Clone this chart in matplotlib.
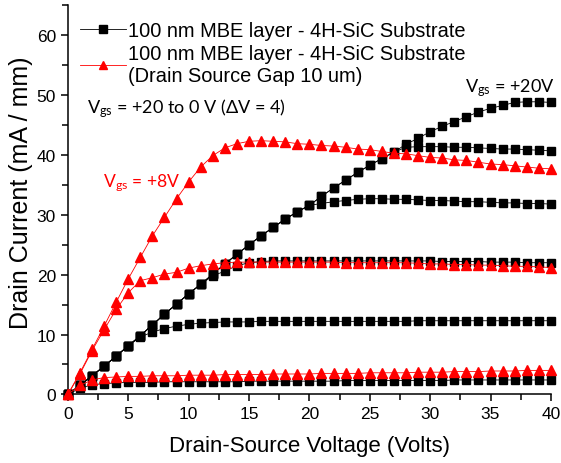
"""I-V output characteristics: 100 nm MBE layer on 4H-SiC substrate."""

import matplotlib

matplotlib.use("Agg")
import matplotlib.pyplot as plt
from matplotlib.ticker import MultipleLocator

plt.rcParams["font.family"] = ["Liberation Sans", "DejaVu Sans"]
plt.rcParams["mathtext.fontset"] = "custom"
plt.rcParams["mathtext.rm"] = "Lato"
plt.rcParams["mathtext.it"] = "Lato"

# drain-source voltage, 1 V steps
vds = list(range(0, 41))

# black squares, Vgs = +20 ... 0 V
black_vgs20 = [0, 1.5, 3.1, 4.7, 6.4, 8.1, 9.8, 11.6, 13.4, 15.1, 16.8, 18.4, 20.1, 21.8,
               23.4, 25.0, 26.5, 27.9, 29.3, 30.5, 31.6, 33.1, 34.5, 35.8, 37.1, 38.3, 39.4,
               40.5, 41.8, 42.8, 43.9, 44.8, 45.6, 46.4, 47.2, 47.8, 48.3, 48.8, 48.9, 48.9, 48.8]
black_vgs16 = [0, 1.5, 3.1, 4.7, 6.4, 8.1, 9.8, 11.6, 13.4, 15.1, 16.8, 18.4, 20.1, 21.8,
               23.4, 25.0, 26.5, 27.9, 29.3, 30.5, 31.6, 33.1, 34.5, 35.8, 37.1, 38.3, 39.4,
               40.5, 41.3, 41.4, 41.4, 41.4, 41.3, 41.3, 41.2, 41.1, 41.0, 41.0, 40.9, 40.8, 40.7]
black_vgs12 = [0, 1.5, 3.1, 4.7, 6.4, 8.1, 9.8, 11.6, 13.4, 15.1, 16.8, 18.4, 20.1, 21.8,
               23.4, 25.0, 26.5, 27.9, 29.3, 30.5, 31.6, 31.9, 32.2, 32.4, 32.6, 32.7, 32.7,
               32.6, 32.6, 32.5, 32.4, 32.4, 32.3, 32.2, 32.2, 32.1, 32.0, 32.0, 31.9, 31.9, 31.8]
black_vgs8 = [0, 1.5, 3.1, 4.7, 6.4, 8.1, 9.8, 11.6, 13.4, 15.1, 16.8, 18.4, 19.8, 20.6,
              21.5, 22.0, 22.2, 22.3, 22.3, 22.3, 22.3, 22.3, 22.3, 22.3, 22.3, 22.3, 22.3,
              22.3, 22.3, 22.3, 22.3, 22.2, 22.2, 22.2, 22.2, 22.1, 22.1, 22.1, 22.0, 22.0, 22.0]
black_vgs4 = [0, 1.5, 3.1, 4.7, 6.4, 8.1, 9.6, 10.4, 11.0, 11.4, 11.7, 11.9, 12.0, 12.1,
              12.1, 12.1, 12.2, 12.2, 12.2, 12.2, 12.2, 12.2, 12.2, 12.2, 12.2, 12.2, 12.2,
              12.2, 12.2, 12.3, 12.3, 12.3, 12.3, 12.3, 12.3, 12.3, 12.3, 12.3, 12.3, 12.3, 12.3]
black_vgs0 = [0, 1.0, 1.6, 1.8, 1.9, 2.0, 2.0, 2.0, 2.1, 2.1, 2.1, 2.1, 2.1, 2.1,
              2.1, 2.2, 2.2, 2.2, 2.2, 2.2, 2.2, 2.2, 2.2, 2.3, 2.3, 2.3, 2.3,
              2.3, 2.3, 2.3, 2.3, 2.3, 2.4, 2.4, 2.4, 2.4, 2.4, 2.4, 2.4, 2.4, 2.4]

# red triangles, drain-source gap 10 um
red_vgs8 = [0, 3.6, 7.5, 11.4, 15.4, 19.3, 22.9, 26.5, 29.6, 32.7, 35.5, 38.0, 39.9, 41.2,
            41.9, 42.3, 42.4, 42.3, 42.2, 41.9, 41.8, 41.6, 41.5, 41.3, 41.0, 40.9, 40.6,
            40.3, 40.2, 39.9, 39.6, 39.5, 39.2, 39.1, 38.8, 38.5, 38.4, 38.2, 38.0, 37.8, 37.7]
red_vgs4 = [0, 3.4, 7.3, 10.8, 14.2, 17.0, 19.0, 19.5, 20.1, 20.4, 21.1, 21.5, 21.8, 22.0,
            22.1, 22.1, 22.1, 22.1, 22.1, 22.1, 22.1, 22.1, 22.1, 22.0, 22.0, 22.0, 22.0,
            22.0, 22.0, 21.9, 21.8, 21.8, 21.7, 21.7, 21.6, 21.6, 21.5, 21.4, 21.4, 21.3, 21.2]
red_vgs0 = [0, 1.5, 2.4, 2.8, 2.9, 3.0, 3.0, 3.1, 3.1, 3.1, 3.2, 3.2, 3.2, 3.3,
            3.3, 3.3, 3.3, 3.4, 3.4, 3.4, 3.4, 3.5, 3.5, 3.5, 3.5, 3.6, 3.6,
            3.6, 3.6, 3.7, 3.7, 3.7, 3.8, 3.8, 3.8, 3.9, 3.9, 3.9, 4.0, 4.0, 4.0]

black_curves = [black_vgs20, black_vgs16, black_vgs12, black_vgs8, black_vgs4, black_vgs0]
red_curves = [red_vgs8, red_vgs4, red_vgs0]

fig = plt.figure(figsize=(5.61, 4.64), dpi=100)
ax = fig.add_axes([0.121, 0.148, 0.861, 0.838])

for i, cur in enumerate(black_curves):
    ax.plot(vds, cur, color="black", lw=0.6, marker="s", ms=6.2, mec="black",
            clip_on=False, zorder=3,
            label="100 nm MBE layer - 4H-SiC Substrate" if i == 0 else None)
for i, cur in enumerate(red_curves):
    ax.plot(vds, cur, color="#ff0000", lw=0.6, marker="^", ms=7.5, mec="#ff0000",
            clip_on=False, zorder=4,
            label="100 nm MBE layer - 4H-SiC Substrate\n(Drain Source Gap 10 um)" if i == 0 else None)

ax.set_xlim(0, 40)
ax.set_ylim(0, 65)
ax.xaxis.set_major_locator(MultipleLocator(5))
ax.xaxis.set_minor_locator(MultipleLocator(2.5))
ax.yaxis.set_major_locator(MultipleLocator(10))
ax.yaxis.set_minor_locator(MultipleLocator(5))
ax.tick_params(which="both", direction="out", width=1.1, labelsize=12.5)
ax.tick_params(which="major", length=5)
ax.tick_params(which="minor", length=4)
ax.spines["top"].set_visible(False)
ax.spines["right"].set_visible(False)
for side in ("left", "bottom"):
    ax.spines[side].set_linewidth(1.1)

ax.set_xlabel("Drain-Source Voltage (Volts)", fontsize=16, labelpad=10)
ax.set_ylabel("Drain Current (mA / mm)", fontsize=18)
ax.yaxis.set_label_coords(-0.072, 0.522)

leg = ax.legend(loc="upper left", bbox_to_anchor=(0.0, 0.99), frameon=False,
                fontsize=14.4, handlelength=2.3, handletextpad=0.1,
                borderaxespad=0.2, labelspacing=0.2, markerscale=0.85)
for t in leg.get_texts():
    t.set_linespacing(1.15)

ann = dict(family=["Lato", "DejaVu Sans"], fontsize=13)
ax.text(1.6, 47.2, "V$_{\\mathrm{gs}}$ = +20 to 0 V (\u0394V = 4)", color="black", **ann)
ax.text(32.9, 50.7, "V$_{\\mathrm{gs}}$ = +20V", color="black", **ann)
ax.text(2.9, 34.8, "V$_{\\mathrm{gs}}$ = +8V", color="#ff0000", fontsize=12.6,
        family=["Lato", "DejaVu Sans"])

fig.savefig("out.png", dpi=100)
